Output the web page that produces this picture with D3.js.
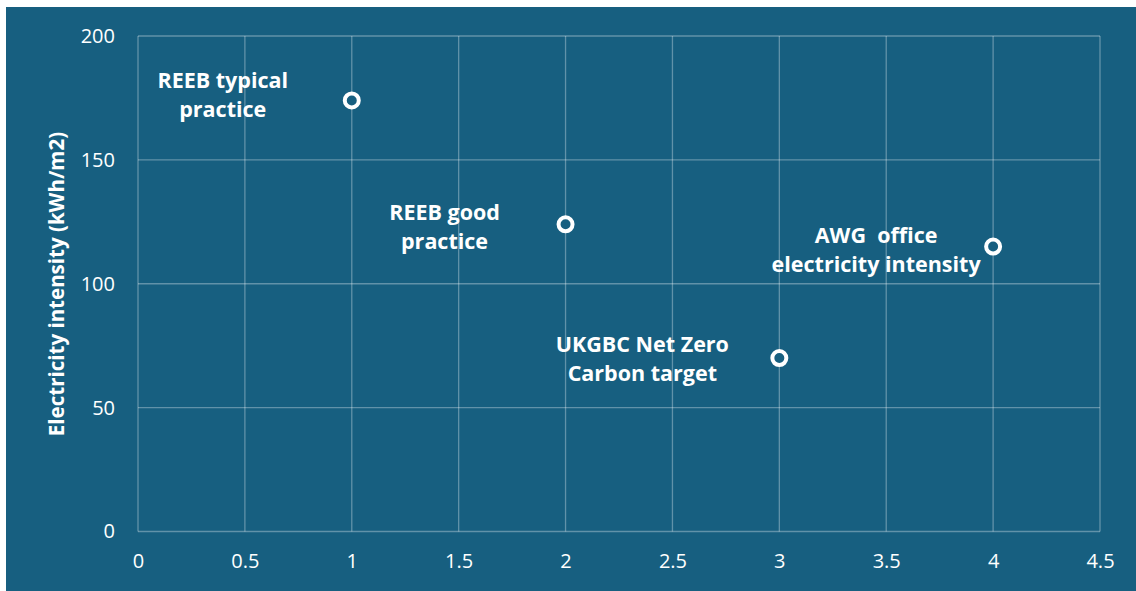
<!DOCTYPE html>
<html><head><meta charset="utf-8">
<script src="https://cdn.jsdelivr.net/npm/d3@7"></script>
<style>html,body{margin:0;padding:0;background:#fff;}svg{display:block;}</style>
</head><body>
<svg id="c" width="1136" height="591"></svg>
<script>
const xValues = [1, 2, 3, 4];
const yValues = [174, 124, 70, 115];
const pointLabels = [
  ["REEB typical", "practice"],
  ["REEB good", "practice"],
  ["UKGBC Net Zero", "Carbon target"],
  ["AWG  office", "electricity intensity"]
];
const xTicks = [0, 0.5, 1, 1.5, 2, 2.5, 3, 3.5, 4, 4.5];
const yTicks = [0, 50, 100, 150, 200];
const yTitle = "Electricity intensity (kWh/m2)";

// label offsets relative to point (styling)
const labelOffsets = [[-129, -12], [-121, -4], [-137, -6], [-117, -4]];

const bg = "#175F80";
const svg = d3.select("#c");
svg.append("rect").attr("x", 6).attr("y", 7).attr("width", 1130).attr("height", 584).attr("fill", bg);

const x = d3.scaleLinear().domain([0, 4.5]).range([138, 1100]);
const y = d3.scaleLinear().domain([0, 200]).range([531.5, 36]);
const font = "'Open Sans', Inter, sans-serif";
const gridCol = "rgba(255,255,255,0.32)";

const g = svg.append("g");
g.selectAll("line.vx").data(xTicks).join("line")
  .attr("x1", d => x(d)).attr("x2", d => x(d)).attr("y1", y(0)).attr("y2", y(200))
  .attr("stroke", gridCol).attr("stroke-width", 1.3);
g.selectAll("line.hy").data(yTicks).join("line")
  .attr("y1", d => y(d)).attr("y2", d => y(d)).attr("x1", x(0)).attr("x2", x(4.5))
  .attr("stroke", gridCol).attr("stroke-width", 1.3);

const xAxis = svg.append("g").attr("transform", `translate(0,${y(0)})`)
  .call(d3.axisBottom(x).tickValues(xTicks).tickSize(0).tickPadding(22).tickFormat(d => String(d)));
xAxis.select(".domain").remove();
xAxis.selectAll("text").attr("fill", "#fff").attr("font-size", 20).attr("font-family", font);

const yAxis = svg.append("g").attr("transform", `translate(${x(0)},0)`)
  .call(d3.axisLeft(y).tickValues(yTicks).tickSize(0).tickPadding(23).tickFormat(d => String(d)));
yAxis.select(".domain").remove();
yAxis.selectAll("text").attr("fill", "#fff").attr("font-size", 20).attr("font-family", font);

svg.append("text").attr("transform", "translate(64,284) rotate(-90)")
  .attr("text-anchor", "middle").attr("fill", "#fff").attr("font-size", 20.5)
  .attr("font-weight", "bold").attr("font-family", font).text(yTitle);

const pts = xValues.map((v, i) => ({x: v, y: yValues[i], lab: pointLabels[i], off: labelOffsets[i]}));

svg.selectAll("circle.pt").data(pts).join("circle")
  .attr("cx", d => x(d.x)).attr("cy", d => y(d.y)).attr("r", 7)
  .attr("fill", bg).attr("stroke", "#fff").attr("stroke-width", 4);

const lg = svg.selectAll("text.lab").data(pts).join("text")
  .attr("text-anchor", "middle").attr("fill", "#fff").attr("font-size", 21.5)
  .attr("font-weight", "bold").attr("font-family", font)
  .style("white-space", "pre");
lg.each(function(d) {
  const t = d3.select(this);
  d.lab.forEach((line, j) => {
    t.append("tspan").attr("x", x(d.x) + d.off[0]).attr("y", y(d.y) + d.off[1] + j * 29).text(line);
  });
});
</script>
</body></html>
